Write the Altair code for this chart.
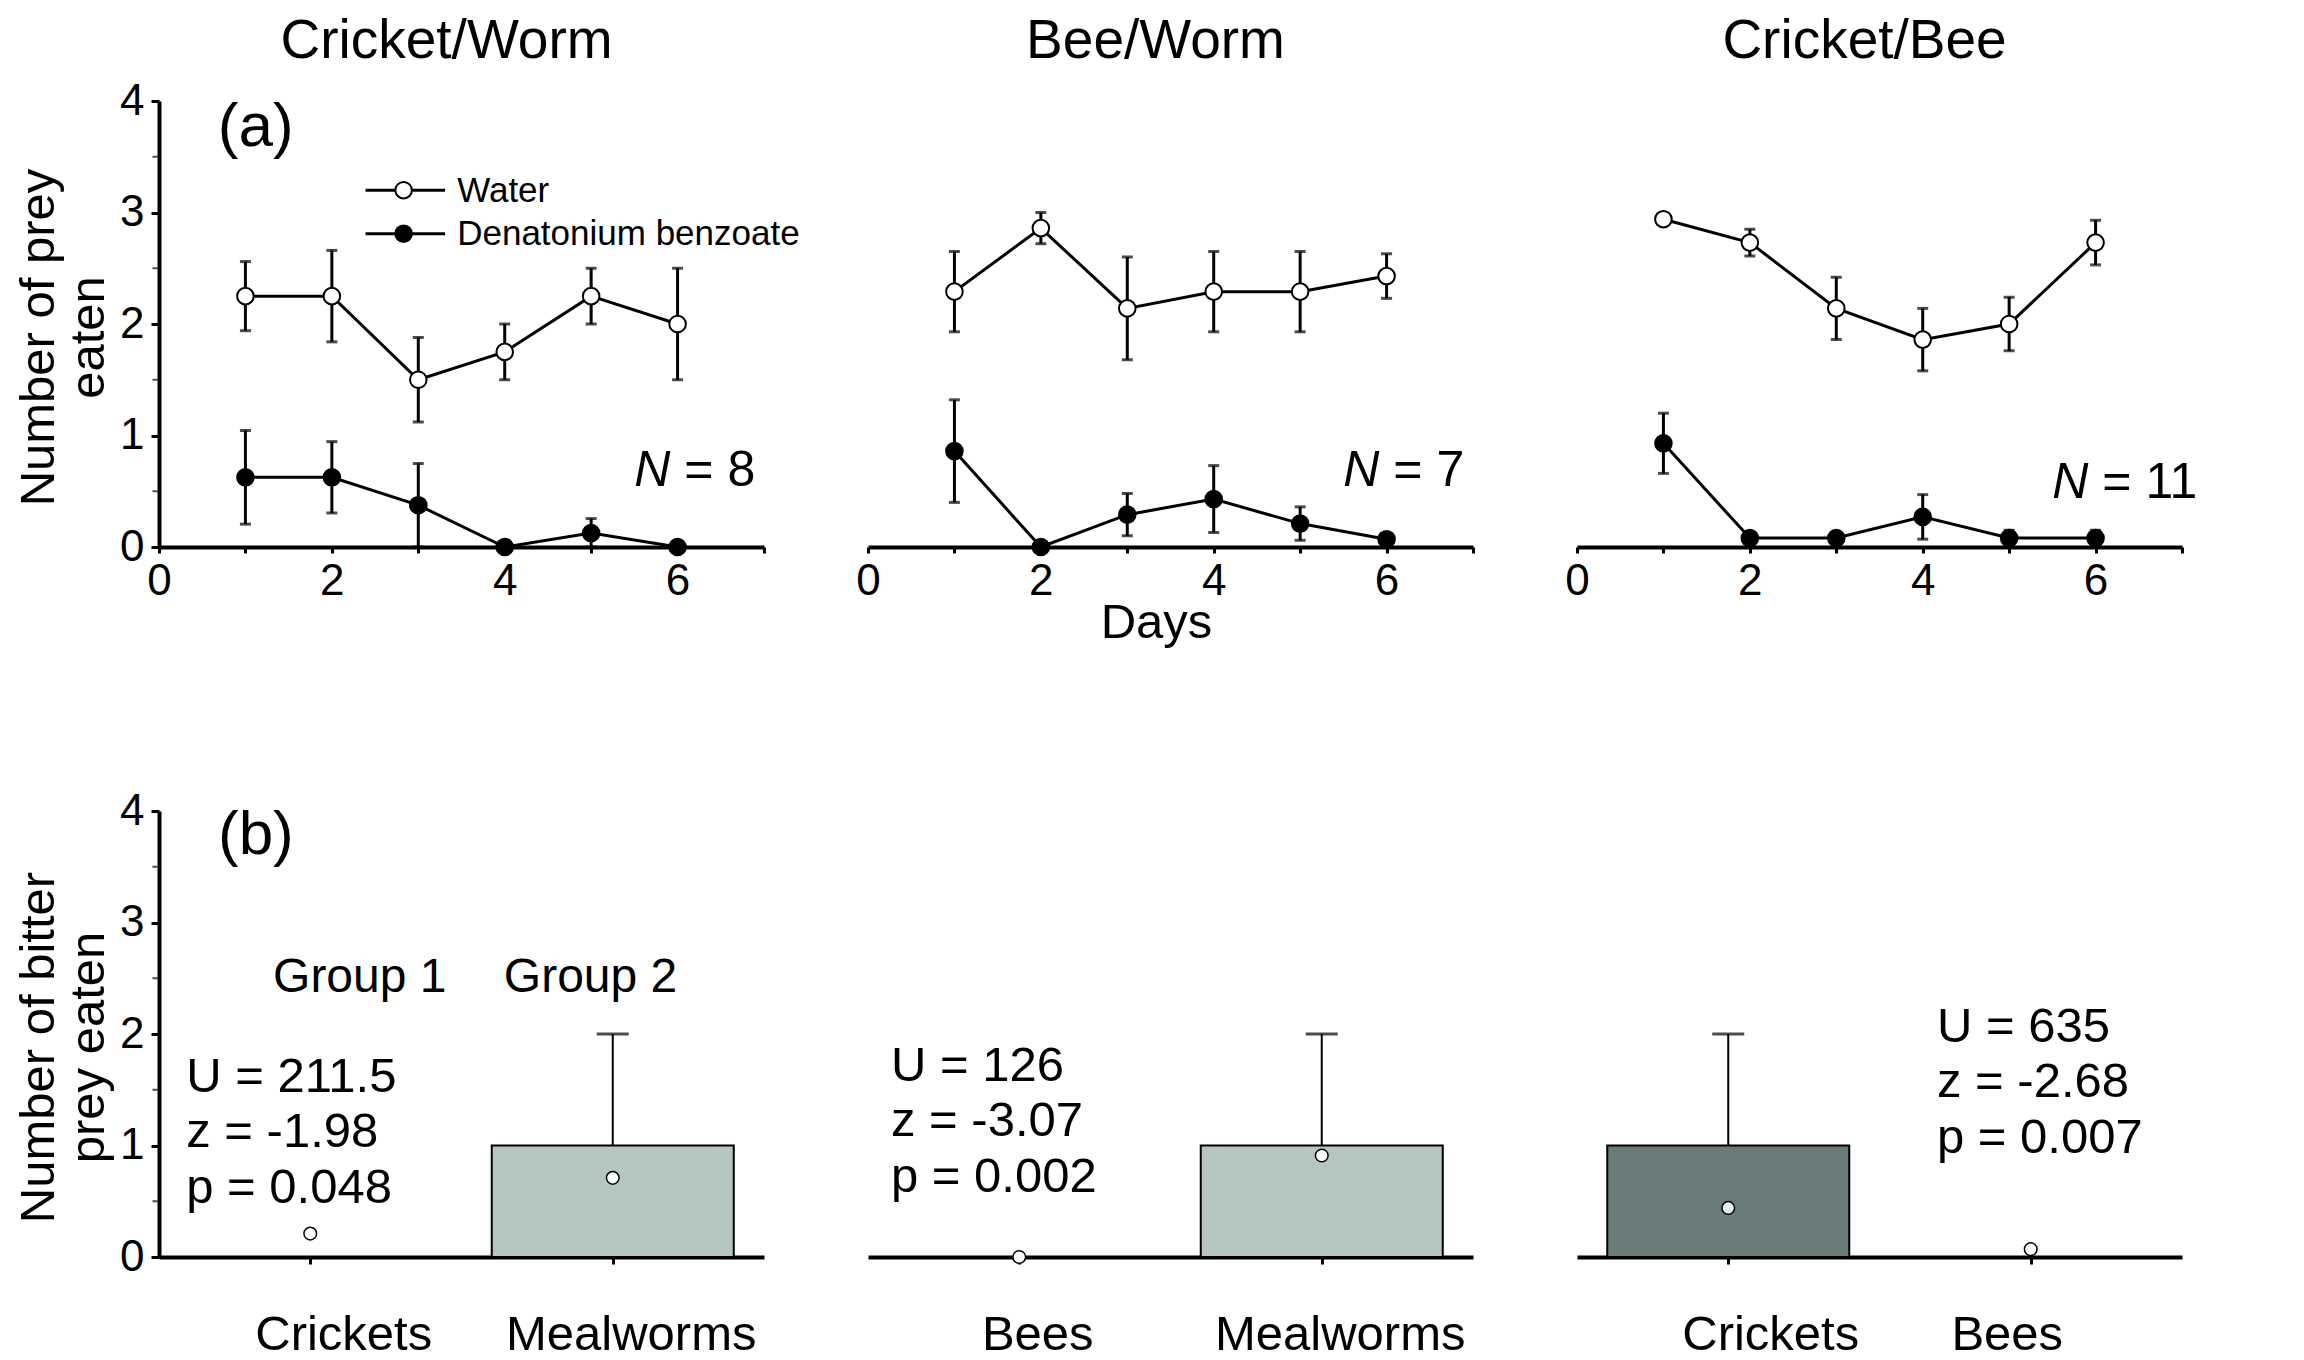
import altair as alt
import pandas as pd

FONT = "Liberation Sans"

# ---------------- panel (a): number of prey eaten per day ----------------
days = [1, 2, 3, 4, 5, 6]
series_names = ["Water", "Denatonium benzoate"]
panel_titles = ["Cricket/Worm", "Bee/Worm", "Cricket/Bee"]

cw_water = [2.25, 2.25, 1.50, 1.75, 2.25, 2.00]
cw_water_se = [0.31, 0.41, 0.38, 0.25, 0.25, 0.50]
cw_db = [0.625, 0.625, 0.375, 0.0, 0.125, 0.0]
cw_db_se = [0.42, 0.32, 0.375, 0.0, 0.13, 0.0]

bw_water = [2.29, 2.86, 2.14, 2.29, 2.29, 2.43]
bw_water_se = [0.36, 0.14, 0.46, 0.36, 0.36, 0.20]
bw_db = [0.86, 0.0, 0.29, 0.43, 0.21, 0.07]
bw_db_se = [0.46, 0.0, 0.19, 0.30, 0.15, 0.0]

cb_water = [2.94, 2.73, 2.14, 1.86, 2.00, 2.73]
cb_water_se = [0.04, 0.12, 0.28, 0.28, 0.24, 0.20]
cb_db = [0.93, 0.08, 0.08, 0.27, 0.08, 0.08]
cb_db_se = [0.27, 0.0, 0.0, 0.20, 0.07, 0.07]

n_texts = ["= 8", "= 7", "= 11"]

# ---------------- panel (b): number of bitter prey eaten ----------------
bottom_categories = [["Crickets", "Mealworms"], ["Bees", "Mealworms"], ["Crickets", "Bees"]]
bottom_medians = [[0, 1], [0, 1], [1, 0]]
bottom_upper = [[None, 2], [None, 2], [2, None]]
bottom_means = [[0.21, 0.71], [0.0, 0.91], [0.44, 0.07]]
bottom_bar_colors = [["#b5c6c1", "#b5c6c1"], ["#b5c6c1", "#b5c6c1"], ["#6b7b7a", "#6b7b7a"]]
bottom_dot_colors = [["white", "white"], ["white", "white"], ["#e6f2f2", "white"]]
stats_lines = [
    ["U = 211.5", "z = -1.98", "p = 0.048"],
    ["U = 126", "z = -3.07", "p = 0.002"],
    ["U = 635", "z = -2.68", "p = 0.007"],
]
group_labels = ["Group 1", "Group 2"]

# ---------------- annotation placement (data units) ----------------
n_pos = [(5.5, 0.55), (5.5, 0.55), (5.5, 0.44)]
stats_pos = [(0.09, 1.48), (0.076, 1.58), (1.19, 1.93)]
group_pos = [(0.377, 2.38), (1.14, 2.38)]
label_offsets = [(33, 18), (18, 18), (42, -24)]
legend_rule_x = (2.39, 3.31)
legend_marker_x = 2.83
legend_text_x = 3.45
legend_rule_y = [3.20, 2.81]
legend_text_y = [3.095, 2.706]
minor_y_ticks = [0.5, 1.5, 2.5, 3.5]

W, H = 605, 446
XS_TOP = alt.Scale(domain=[0, 7], nice=False, zero=False)
YS = alt.Scale(domain=[0, 4], nice=False, zero=False)
XS_BOT = alt.Scale(domain=[0, 2], nice=False, zero=False)


def y_axis(lines):
    return alt.Axis(values=[0, 1, 2, 3, 4], tickSize=8, tickWidth=3, domainWidth=4,
                    labelFontSize=44, labelPadding=7, grid=False,
                    title=lines, titleFontSize=49, titleFontWeight="normal",
                    titleLineHeight=50, titleAngle=270, titleX=-106, titleY=H / 2 + 13,
                    titleAlign="center", titleBaseline="alphabetic")


def top_x_axis(with_title):
    kw = dict(values=list(range(8)),
              labelExpr="datum.value % 2 === 0 ? datum.label : ''",
              tickSize=6, tickWidth=3, domainWidth=4, labelFontSize=44,
              labelPadding=6, labelFlush=False, labelOverlap=False, grid=False)
    if with_title:
        kw.update(title="Days", titleFontSize=49, titleFontWeight="normal",
                  titleX=288, titleY=90, titleAlign="center", titleBaseline="alphabetic")
    else:
        kw["title"] = None
    return alt.Axis(**kw)


def minor_ticks(X, Y, xval):
    mdf = pd.DataFrame({"x": [xval] * len(minor_y_ticks), "y": minor_y_ticks})
    return alt.Chart(mdf).mark_tick(color="black", orient="horizontal", size=5,
                                    thickness=2, xOffset=-4).encode(x=X("x:Q"), y=Y("y:Q"))


def top_panel(k, water, water_se, db, db_se):
    df = pd.DataFrame({
        "day": days + days,
        "value": water + db,
        "se": water_se + db_se,
        "series": [series_names[0]] * len(days) + [series_names[1]] * len(days),
    })
    df["lo"] = (df["value"] - df["se"]).clip(lower=0)
    df["hi"] = df["value"] + df["se"]

    xa = top_x_axis(k == 1)
    ya = y_axis(["Number of prey", "eaten"]) if k == 0 else None

    def X(f):
        return alt.X(f, scale=XS_TOP, axis=xa)

    def Y(f):
        return alt.Y(f, scale=YS, axis=ya)

    base = alt.Chart(df)
    lines = base.mark_line(color="black", strokeWidth=3).encode(
        x=X("day:Q"), y=Y("value:Q"), detail="series:N")
    err = base.transform_filter("datum.se > 0").mark_rule(color="black", strokeWidth=3).encode(
        x=X("day:Q"), y=Y("lo:Q"), y2="hi:Q")
    caps = base.transform_filter("datum.se > 0").transform_fold(
        ["lo", "hi"], as_=["end", "cap"]).mark_tick(
        color="black", orient="horizontal", size=11, thickness=3).encode(
        x=X("day:Q"), y=Y("cap:Q"))
    pts = base.mark_point(shape="circle", filled=True, size=275, stroke="black",
                          strokeWidth=2, opacity=1).encode(
        x=X("day:Q"), y=Y("value:Q"),
        fill=alt.Fill("series:N", scale=alt.Scale(domain=series_names, range=["white", "black"]),
                      legend=None))

    ndf = pd.DataFrame({"x": [n_pos[k][0]], "y": [n_pos[k][1]], "rest": [n_texts[k]]})
    nl = alt.Chart(ndf).mark_text(text="N", fontStyle="italic", fontSize=50, align="left",
                                  baseline="alphabetic").encode(x=X("x:Q"), y=Y("y:Q"))
    nr = alt.Chart(ndf).mark_text(fontSize=50, align="left", baseline="alphabetic", dx=50).encode(
        x=X("x:Q"), y=Y("y:Q"), text="rest:N")

    layers = [lines, err, caps, pts, nl, nr]

    if k == 0:
        ldf = pd.DataFrame({
            "series": series_names,
            "x0": [legend_rule_x[0]] * 2, "x1": [legend_rule_x[1]] * 2,
            "xm": [legend_marker_x] * 2, "tx": [legend_text_x] * 2,
            "ly": legend_rule_y, "ty": legend_text_y,
        })
        lrule = alt.Chart(ldf).mark_rule(color="black", strokeWidth=3).encode(
            x=X("x0:Q"), x2="x1:Q", y=Y("ly:Q"))
        lpt = alt.Chart(ldf).mark_point(shape="circle", filled=True, size=275, stroke="black",
                                        strokeWidth=2, opacity=1).encode(
            x=X("xm:Q"), y=Y("ly:Q"),
            fill=alt.Fill("series:N", scale=alt.Scale(domain=series_names, range=["white", "black"]),
                          legend=None))
        ltx = alt.Chart(ldf).mark_text(fontSize=35, align="left", baseline="alphabetic").encode(
            x=X("tx:Q"), y=Y("ty:Q"), text="series:N")
        adf = pd.DataFrame({"x": [0.68], "y": [3.6]})
        atx = alt.Chart(adf).mark_text(text="(a)", fontSize=62, align="left",
                                       baseline="alphabetic").encode(x=X("x:Q"), y=Y("y:Q"))
        layers += [lrule, lpt, ltx, atx, minor_ticks(X, Y, 0)]

    offset = -34 if k == 0 else -12
    return alt.layer(*layers).properties(
        width=W, height=H,
        title=alt.TitleParams(panel_titles[k], anchor="middle", frame="group", dx=-15,
                              offset=offset, baseline="alphabetic", fontSize=55,
                              fontWeight="normal", font=FONT))


def bottom_panel(k):
    cats = bottom_categories[k]
    df = pd.DataFrame({
        "idx": list(range(len(cats))),
        "cat": cats,
        "median": bottom_medians[k],
        "upper": bottom_upper[k],
        "mean": bottom_means[k],
        "fill": bottom_bar_colors[k],
        "dot": bottom_dot_colors[k],
    })
    df["pos"] = df["idx"] + 0.5
    df["left"] = df["idx"] + 0.1
    df["right"] = df["idx"] + 0.9
    df["base"] = 0.0

    expr = "[" + ",".join("'%s'" % c for c in cats) + "][floor(datum.value)]"
    o0, o1 = label_offsets[k]
    xa = alt.Axis(values=[0.5, 1.5], labelExpr=expr, tickSize=7, tickWidth=3, domainWidth=4,
                  labelFontSize=49, labelPadding=46, labelLimit=600, labelFlush=False,
                  labelOverlap=False,
                  labelOffset={"condition": {"test": "datum.value < 1", "value": o0}, "value": o1},
                  title=None, grid=False)
    ya = y_axis(["Number of bitter", "prey eaten"]) if k == 0 else None

    def X(f):
        return alt.X(f, scale=XS_BOT, axis=xa)

    def Y(f):
        return alt.Y(f, scale=YS, axis=ya)

    base = alt.Chart(df)
    bars = base.transform_filter("datum.median > 0").mark_rect(stroke="black", strokeWidth=2).encode(
        x=X("left:Q"), x2="right:Q", y=Y("median:Q"), y2="base:Q",
        fill=alt.Fill("fill:N", scale=None))
    err = base.transform_filter("isValid(datum.upper)").mark_rule(color="black", strokeWidth=2).encode(
        x=X("pos:Q"), y=Y("median:Q"), y2="upper:Q")
    cap = base.transform_filter("isValid(datum.upper)").mark_tick(
        color="black", orient="horizontal", size=32, thickness=3).encode(
        x=X("pos:Q"), y=Y("upper:Q"))
    dots = base.mark_point(shape="circle", filled=True, stroke="black", strokeWidth=1.5,
                           size=160, opacity=1).encode(
        x=X("pos:Q"), y=Y("mean:Q"), fill=alt.Fill("dot:N", scale=None))

    sdf = pd.DataFrame({"x": [stats_pos[k][0]], "y": [stats_pos[k][1]]})
    stx = alt.Chart(sdf).mark_text(text=stats_lines[k], fontSize=49, lineHeight=55.5,
                                   align="left", baseline="alphabetic").encode(
        x=X("x:Q"), y=Y("y:Q"))
    layers = [bars, err, cap, dots, stx]

    if k == 0:
        gdf = pd.DataFrame({"label": group_labels,
                            "x": [p[0] for p in group_pos], "y": [p[1] for p in group_pos]})
        gtx = alt.Chart(gdf).mark_text(fontSize=48, align="left", baseline="alphabetic").encode(
            x=X("x:Q"), y=Y("y:Q"), text="label:N")
        bdf = pd.DataFrame({"x": [0.195], "y": [3.61]})
        btx = alt.Chart(bdf).mark_text(text="(b)", fontSize=62, align="left",
                                       baseline="alphabetic").encode(x=X("x:Q"), y=Y("y:Q"))
        layers += [gtx, btx, minor_ticks(X, Y, 0)]

    return alt.layer(*layers).properties(width=W, height=H)


tops = [
    top_panel(0, cw_water, cw_water_se, cw_db, cw_db_se),
    top_panel(1, bw_water, bw_water_se, bw_db, bw_db_se),
    top_panel(2, cb_water, cb_water_se, cb_db, cb_db_se),
]
bottoms = [bottom_panel(k) for k in range(3)]

chart = alt.concat(*tops, *bottoms, columns=3, spacing={"row": 264, "column": 104},
                   bounds="flush").properties(
    padding={"left": 6, "top": 6, "right": 5, "bottom": 0}
).configure_view(stroke=None).configure_axis(
    labelFont=FONT, titleFont=FONT, labelColor="black", titleColor="black",
    domainColor="black", tickColor="black", grid=False
).configure_text(font=FONT, color="black").configure_title(
    font=FONT, fontSize=55, fontWeight="normal", color="black"
)

chart.save("out.html", embed_options={"renderer": "svg", "actions": False})
